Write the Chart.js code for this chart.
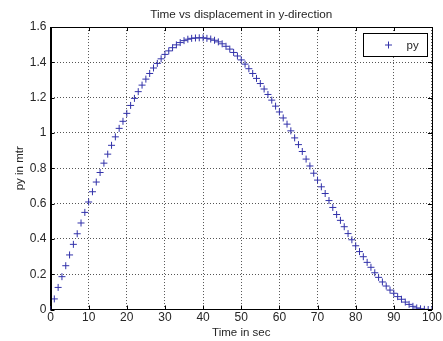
<!DOCTYPE html>
<html>
<head>
<meta charset="utf-8">
<script src="https://cdn.jsdelivr.net/npm/chart.js@4"></script>
<style>
  html, body { margin: 0; padding: 0; background: #fff; }
  #wrap { width: 443px; height: 341px; }
</style>
</head>
<body>
<div id="wrap"><canvas id="py"></canvas></div>
<script>
var timeSec = [
    0, 1, 2, 3, 4, 5, 6, 7, 8, 9,
    10, 11, 12, 13, 14, 15, 16, 17, 18, 19,
    20, 21, 22, 23, 24, 25, 26, 27, 28, 29,
    30, 31, 32, 33, 34, 35, 36, 37, 38, 39,
    40, 41, 42, 43, 44, 45, 46, 47, 48, 49,
    50, 51, 52, 53, 54, 55, 56, 57, 58, 59,
    60, 61, 62, 63, 64, 65, 66, 67, 68, 69,
    70, 71, 72, 73, 74, 75, 76, 77, 78, 79,
    80, 81, 82, 83, 84, 85, 86, 87, 88, 89,
    90, 91, 92, 93, 94, 95, 96, 97, 98, 99,
    100
];

var pyMtr = [
    0.000, 0.060, 0.125, 0.186, 0.248, 0.309, 0.369, 0.429, 0.490, 0.550,
    0.609, 0.667, 0.722, 0.776, 0.829, 0.880, 0.930, 0.978, 1.026, 1.066,
    1.111, 1.156, 1.196, 1.234, 1.271, 1.305, 1.337, 1.368, 1.394, 1.420,
    1.445, 1.465, 1.483, 1.499, 1.512, 1.523, 1.531, 1.536, 1.538, 1.539,
    1.539, 1.536, 1.532, 1.525, 1.516, 1.505, 1.491, 1.475, 1.456, 1.436,
    1.414, 1.390, 1.364, 1.337, 1.309, 1.280, 1.249, 1.218, 1.186, 1.152,
    1.119, 1.085, 1.050, 1.012, 0.972, 0.934, 0.895, 0.852, 0.813, 0.772,
    0.733, 0.695, 0.657, 0.617, 0.578, 0.538, 0.505, 0.469, 0.430, 0.395,
    0.361, 0.328, 0.299, 0.267, 0.239, 0.208, 0.182, 0.156, 0.133, 0.110,
    0.092, 0.073, 0.058, 0.042, 0.029, 0.018, 0.009, 0.004, 0.001, 0.000,
    0.000
];

var seriesName = "py";
var xTicks = [0, 10, 20, 30, 40, 50, 60, 70, 80, 90, 100];
var yTicks = [0, 0.2, 0.4, 0.6, 0.8, 1, 1.2, 1.4, 1.6];

var markColor = "#3232aa";
var textColor = "#262626";
var fontFamily = "'Liberation Sans', Arial, sans-serif";

var points = timeSec.map(function(t, i) {
    return { x: t, y: pyMtr[i] };
});

// box round the plot, inward tick marks and the boxed legend (MATLAB look)
var matlabBox = {
    id: "matlabBox",
    afterDatasetsDraw: function(chart) {
        var ctx = chart.ctx, a = chart.chartArea;
        var xs = chart.scales.x, ys = chart.scales.y;
        ctx.save();
        ctx.strokeStyle = "#000";
        ctx.lineWidth = 1;
        ctx.beginPath();
        xTicks.forEach(function(v) {
            var px = Math.round(xs.getPixelForValue(v)) + 0.5;
            ctx.moveTo(px, a.bottom); ctx.lineTo(px, a.bottom - 4);
            ctx.moveTo(px, a.top); ctx.lineTo(px, a.top + 4);
        });
        yTicks.forEach(function(v) {
            var py = Math.round(ys.getPixelForValue(v)) + 0.5;
            ctx.moveTo(a.left, py); ctx.lineTo(a.left + 4, py);
            ctx.moveTo(a.right, py); ctx.lineTo(a.right - 4, py);
        });
        ctx.stroke();
        ctx.strokeRect(Math.round(a.left) + 0.5, Math.round(a.top) + 0.5,
                       Math.round(a.right - a.left), Math.round(a.bottom - a.top));

        // legend
        var lw = 64, lh = 23;
        var lx = Math.round(a.right) - 69 + 0.5, ly = Math.round(a.top) + 6 + 0.5;
        ctx.fillStyle = "#fff";
        ctx.fillRect(lx, ly, lw, lh);
        ctx.strokeRect(lx, ly, lw, lh);
        var cx = lx + 25, cy = ly + lh / 2;
        ctx.strokeStyle = markColor;
        ctx.beginPath();
        ctx.moveTo(cx - 3.5, cy); ctx.lineTo(cx + 3.5, cy);
        ctx.moveTo(cx, cy - 3.5); ctx.lineTo(cx, cy + 3.5);
        ctx.stroke();
        ctx.fillStyle = textColor;
        ctx.font = "11.5px " + fontFamily;
        ctx.textBaseline = "middle";
        ctx.textAlign = "left";
        ctx.fillText(seriesName, lx + 43, cy + 1);
        ctx.restore();
    }
};

var pyConfig = {
    type: "scatter",
    data: {
        datasets: [{
            label: seriesName,
            data: points,
            pointStyle: "cross",
            pointRadius: 3.5,
            pointBorderWidth: 1,
            borderColor: markColor,
            backgroundColor: markColor,
            showLine: false
        }]
    },
    options: {
        responsive: false,
        animation: false,
        layout: {
            autoPadding: false,
            padding: { left: 0, right: 6, top: 0, bottom: 0 }
        },
        plugins: {
            legend: { display: false },
            tooltip: { enabled: false },
            title: {
                display: true,
                fullSize: false,
                text: "Time vs displacement in y-direction",
                color: textColor,
                font: { family: fontFamily, size: 11.7, weight: "normal" },
                padding: { top: 8, bottom: 5 }
            }
        },
        scales: {
            x: {
                type: "linear",
                min: 0,
                max: 100,
                afterBuildTicks: function(scale) {
                    scale.ticks = xTicks.map(function(v) { return { value: v }; });
                },
                afterFit: function(scale) { scale.height = 31.5; },
                ticks: {
                    color: textColor,
                    font: { family: fontFamily, size: 12 },
                    padding: 1,
                    maxRotation: 0
                },
                grid: {
                    color: "#555",
                    lineWidth: 1,
                    drawTicks: false
                },
                border: { display: true, color: "#000", dash: [1, 2] },
                title: {
                    display: true,
                    text: "Time in sec",
                    color: textColor,
                    font: { family: fontFamily, size: 11.5 },
                    padding: { top: 0, bottom: 1 }
                }
            },
            y: {
                type: "linear",
                min: 0,
                max: 1.6,
                afterBuildTicks: function(scale) {
                    scale.ticks = yTicks.map(function(v) { return { value: v }; });
                },
                afterFit: function(scale) { scale.width = 50.5; },
                ticks: {
                    color: textColor,
                    font: { family: fontFamily, size: 12 },
                    padding: 4,
                    callback: function(v) { return String(+v.toFixed(1)); }
                },
                grid: {
                    color: "#555",
                    lineWidth: 1,
                    drawTicks: false
                },
                border: { display: true, color: "#000", dash: [1, 2] },
                title: {
                    display: true,
                    text: "py in mtr",
                    color: textColor,
                    font: { family: fontFamily, size: 11.5 },
                    padding: { top: 13, bottom: 0 }
                }
            }
        }
    },
    plugins: [matlabBox]
};

window.onload = function() {
    var canvas = document.getElementById("py");
    canvas.width = 443;
    canvas.height = 341;
    var pyCtx = canvas.getContext("2d");
    window.pyChart = new Chart(pyCtx, pyConfig);
};
</script>
</body>
</html>
